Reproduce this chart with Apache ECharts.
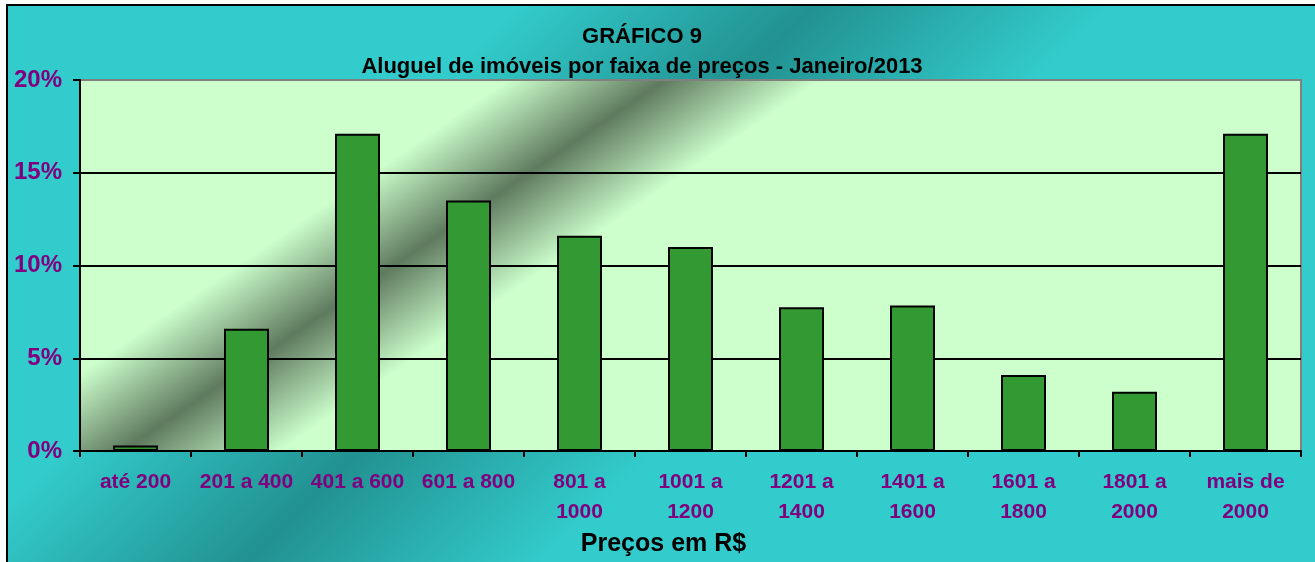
<!DOCTYPE html>
<html>
<head>
<meta charset="utf-8">
<script src="https://cdn.jsdelivr.net/npm/echarts@6/dist/echarts.min.js"></script>
<style>
html,body{margin:0;padding:0;background:#fff;}
#chart{width:1315px;height:562px;}
</style>
</head>
<body>
<div id="chart"></div>
<script>
const titleText = 'GRÁFICO 9';
const subtitleText = 'Aluguel de imóveis por faixa de preços - Janeiro/2013';
const axisName = 'Preços em R$';
const categories = ['até 200', '201 a 400', '401 a 600', '601 a 800', '801 a\n1000', '1001 a\n1200', '1201 a\n1400', '1401 a\n1600', '1601 a\n1800', '1801 a\n2000', 'mais de\n2000'];
const shares = [0.3, 6.6, 17.1, 13.5, 11.6, 11.0, 7.75, 7.85, 4.1, 3.2, 17.1];
const yTicks = [0, 5, 10, 15, 20];

const FONT = '"Liberation Sans", Arial, sans-serif';
const PURPLE = '#800080';
const chart = echarts.init(document.getElementById('chart'));

const outerGrad = new echarts.graphic.LinearGradient(385, 132, 679, 432, [
  {offset: 0, color: '#33CCCC'},
  {offset: 0.5, color: '#229191'},
  {offset: 1, color: '#33CCCC'}
], true);
const plotGrad = new echarts.graphic.LinearGradient(343, 193, 443, 339, [
  {offset: 0, color: '#CCFFCC'},
  {offset: 0.5, color: '#5F7A5F'},
  {offset: 1, color: '#CCFFCC'}
], true);

chart.setOption({
  animation: false,
  graphic: [{
    type: 'rect', z: -100, silent: true,
    shape: {x: 7, y: 5, width: 1340, height: 600},
    style: {fill: outerGrad, stroke: '#000', lineWidth: 2}
  }],
  title: [{
    text: titleText, left: 642, textAlign: 'center', top: 26, padding: 0,
    textStyle: {fontFamily: FONT, fontSize: 22, fontWeight: 'bold', color: '#000'}
  }, {
    text: subtitleText, left: 642, textAlign: 'center', top: 56, padding: 0,
    textStyle: {fontFamily: FONT, fontSize: 22, fontWeight: 'bold', color: '#000'}
  }],
  grid: {
    left: 80, top: 80, right: 14, bottom: 106,
    show: true, backgroundColor: plotGrad, borderColor: '#808080', borderWidth: 2
  },
  xAxis: {
    type: 'category', data: categories, boundaryGap: true,
    name: axisName, nameLocation: 'middle', nameGap: 78,
    nameTextStyle: {fontFamily: FONT, fontSize: 25, fontWeight: 'bold', color: '#000', padding: [0, 54, 0, 0]},
    axisLine: {show: true, lineStyle: {color: '#000', width: 2}},
    axisTick: {show: true, length: 6, alignWithLabel: false, lineStyle: {color: '#000', width: 2}},
    axisLabel: {interval: 0, margin: 16, fontFamily: FONT, fontSize: 21, fontWeight: 'bold', color: PURPLE, lineHeight: 30}
  },
  yAxis: {
    type: 'value', min: yTicks[0], max: yTicks[yTicks.length - 1], interval: 5,
    axisLine: {show: true, lineStyle: {color: '#000', width: 2}},
    axisTick: {show: true, length: 7, lineStyle: {color: '#000', width: 2}},
    axisLabel: {margin: 18, fontFamily: FONT, fontSize: 24, fontWeight: 'bold', color: PURPLE, formatter: '{value}%'},
    splitLine: {show: true, lineStyle: {color: ['#000', '#000', '#000', '#000', '#808080'], width: 2}}
  },
  series: [{
    type: 'bar', data: shares, barWidth: 45,
    itemStyle: {color: '#339933', borderColor: '#000', borderWidth: 2}
  }]
});
</script>
</body>
</html>
